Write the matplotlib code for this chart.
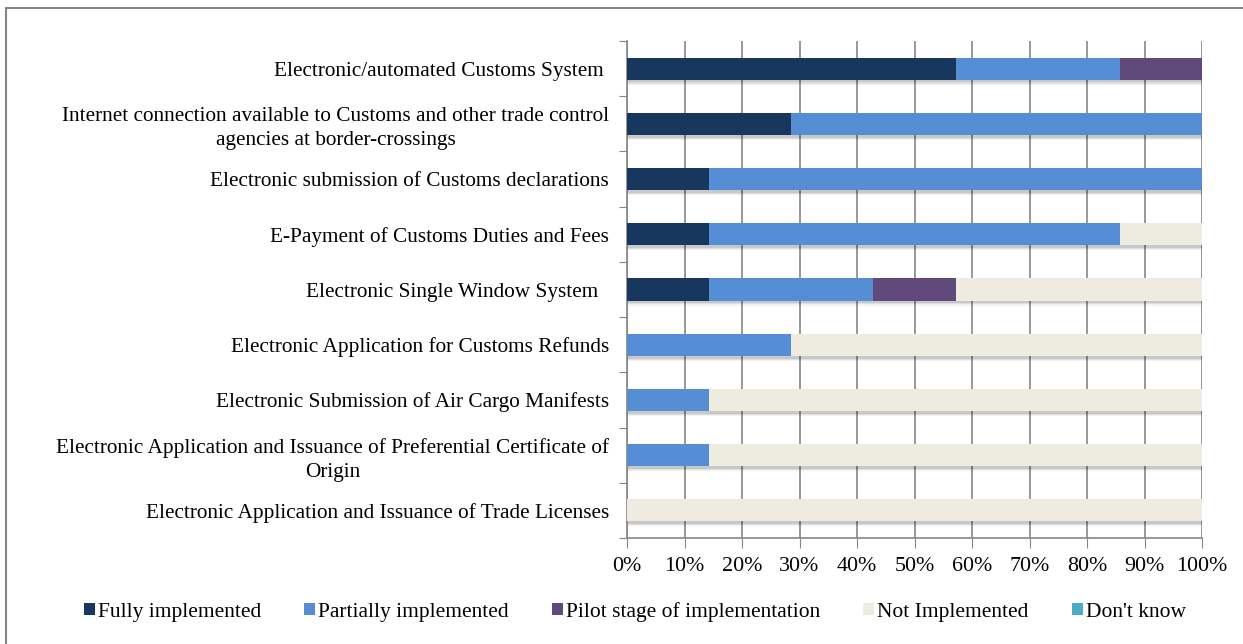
import matplotlib.pyplot as plt
import numpy as np
from matplotlib.patches import Rectangle

# Categories (top to bottom) and shares in percent (7 respondents -> steps of 1/7)
categories = [
    'Electronic/automated Customs System ',
    'Internet connection available to Customs and other trade control\nagencies at border-crossings',
    'Electronic submission of Customs declarations',
    'E-Payment of Customs Duties and Fees',
    'Electronic Single Window System  ',
    'Electronic Application for Customs Refunds',
    'Electronic Submission of Air Cargo Manifests',
    'Electronic Application and Issuance of Preferential Certificate of\nOrigin',
    'Electronic Application and Issuance of Trade Licenses',
]
fully = [57.14, 28.57, 14.29, 14.29, 14.29, 0, 0, 0, 0]
partially = [28.57, 71.43, 85.71, 71.43, 28.57, 28.57, 14.29, 14.29, 0]
pilot = [14.29, 0, 0, 0, 14.29, 0, 0, 0, 0]
not_impl = [0, 0, 0, 14.29, 42.86, 71.43, 85.71, 85.71, 100]
dont_know = [0, 0, 0, 0, 0, 0, 0, 0, 0]

series = [
    ('Fully implemented', fully, '#17375E'),
    ('Partially implemented', partially, '#558ED5'),
    ('Pilot stage of implementation', pilot, '#604A7B'),
    ('Not Implemented', not_impl, '#EEECE1'),
    ("Don't know", dont_know, '#4BACC6'),
]

plt.rcParams['font.family'] = ['Liberation Serif', 'DejaVu Serif']

fig = plt.figure(figsize=(12.43, 6.44), dpi=100)
ax = fig.add_axes([627 / 1243, 1 - 538 / 644, (1202 - 627) / 1243, (538 - 41) / 644])

y = np.arange(len(categories))
bar_h = 0.4

# soft drop shadow under each full bar
totals = np.sum([s[1] for s in series], axis=0)
for k, a in enumerate([0.10, 0.08, 0.05]):
    ax.barh(y + 0.05 + k * 0.02, totals, height=bar_h, color='black', alpha=a,
            zorder=2, linewidth=0)

left = np.zeros(len(categories))
for name, vals, col in series:
    vals = np.array(vals)
    ax.barh(y, vals, left=left, height=bar_h, color=col, label=name, zorder=3,
            linewidth=0)
    left += vals

ax.set_xlim(0, 100)
ax.set_ylim(len(categories) - 0.5, -0.5)
ax.set_xticks(np.arange(0, 101, 10))
ax.set_xticklabels([f'{v}%' for v in range(0, 101, 10)], fontsize=15.8)
ax.tick_params(axis='x', length=7, color='#868686', pad=7, direction='out')

ax.set_yticks(np.arange(-0.5, len(categories), 1))
ax.set_yticklabels([])
ax.set_yticks(y, minor=True)
ax.set_yticklabels(categories, minor=True, fontsize=15.3, multialignment='center',
                   linespacing=1.35)
ax.tick_params(axis='y', which='major', length=6, color='#868686', direction='out')
ax.tick_params(axis='y', which='minor', length=0, pad=13)

ax.grid(axis='x', color='#868686', linewidth=1.2, zorder=0)
ax.set_axisbelow(True)
for side in ['top', 'right']:
    ax.spines[side].set_visible(False)
for side in ['left', 'bottom']:
    ax.spines[side].set_color('#868686')
    ax.spines[side].set_linewidth(1.2)

ax.legend(loc='center', bbox_to_anchor=(635 / 1243, 1 - 612 / 644),
          bbox_transform=fig.transFigure, ncol=5, frameon=False, fontsize=15.5,
          handlelength=0.5, handleheight=0.5, handletextpad=0.15,
          columnspacing=2.0)

# outer chart border
fig.patches.append(Rectangle((6 / 1243, -0.05), 1.1, 1 - 8 / 644 + 0.05,
                             transform=fig.transFigure, fill=False,
                             edgecolor='#868686', linewidth=1.5))

fig.savefig('out.png', dpi=100)
